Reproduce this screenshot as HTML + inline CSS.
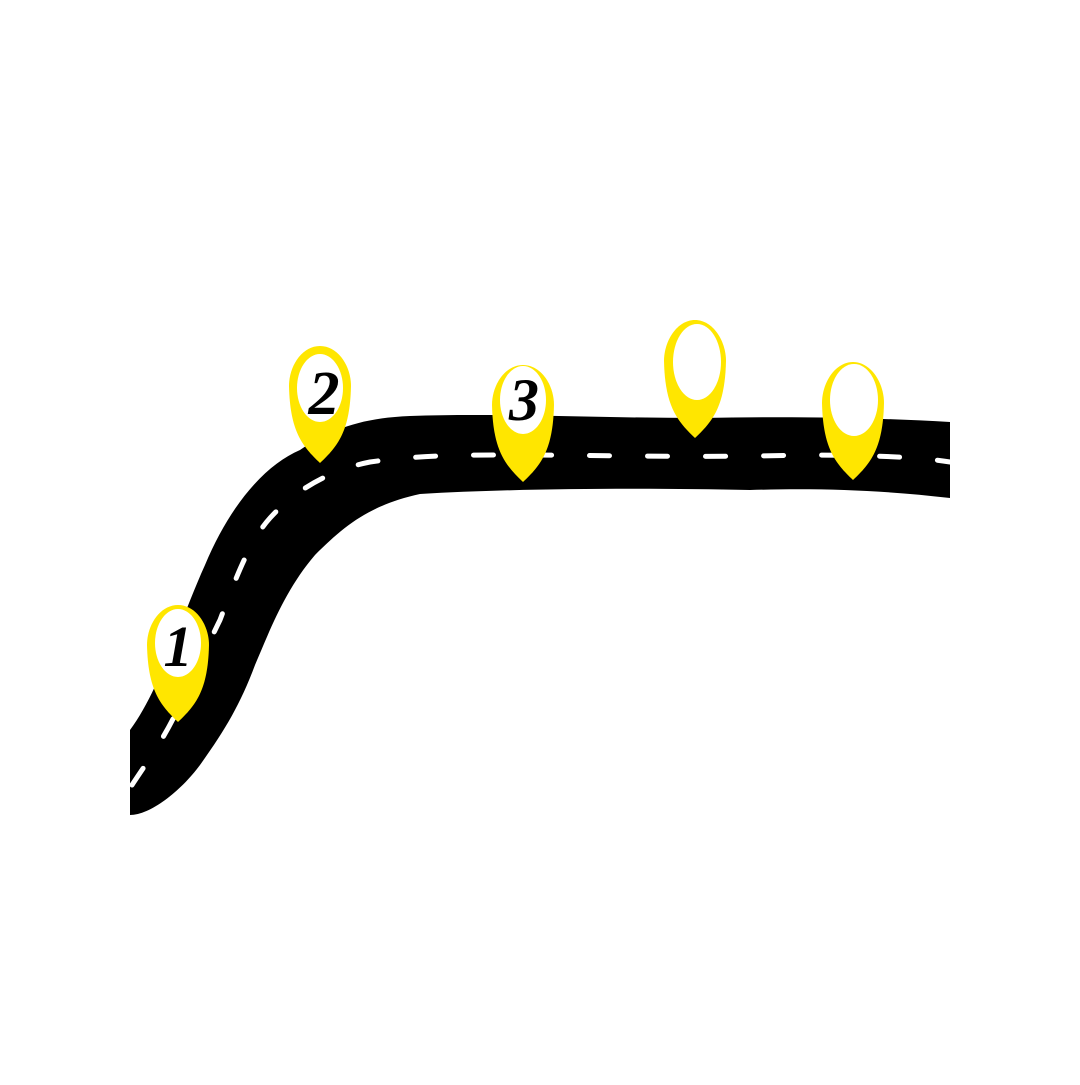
<!DOCTYPE html>
<html><head><style>html,body{margin:0;padding:0;background:#fff}</style></head>
<body>
<svg width="1080" height="1080" viewBox="0 0 1080 1080" xmlns="http://www.w3.org/2000/svg">
<rect width="1080" height="1080" fill="#fff"/>
<path d="M130,730 C160,690 180,620 205,565 C230,505 265,465 300,450 C330,430 360,418 410,416 C500,413 600,418 700,418 C800,416 880,418 950,422 L950,498 C880,490 820,488 750,490 C650,488 520,488 420,494 C370,505 345,525 315,555 C285,590 270,630 255,665 C240,705 225,730 200,765 C180,792 150,815 130,815 Z" fill="#000"/>
<path d="M132,785 C145,765 160,745 175,715 C195,675 210,640 220,620 C235,580 250,540 270,518 C295,490 330,470 370,462 C420,455 460,455 520,455 C600,455 700,458 800,455 C870,455 920,457 950,462" fill="none" stroke="#fff" stroke-width="5" stroke-linecap="round" stroke-dasharray="20,38"/>
<g fill="#FFE600">
<path d="M178,722 C160,705 148,690 147,645 C147,625 160,605 178,605 C196,605 209,625 209,645 C208,690 196,705 178,722 Z"/>
<path d="M320,463 C302,446 290,431 289,386 C289,366 302,346 320,346 C338,346 351,366 351,386 C350,431 338,446 320,463 Z"/>
<path d="M523,482 C505,465 493,450 492,405 C492,385 505,365 523,365 C541,365 554,385 554,405 C553,450 541,465 523,482 Z"/>
<path d="M695,438 C677,421 665,406 664,361 C664,341 677,320 695,320 C713,320 726,341 726,361 C725,406 713,421 695,438 Z"/>
<path d="M853,480 C835,463 823,448 822,403 C822,383 835,362 853,362 C871,362 884,383 884,403 C883,448 871,463 853,480 Z"/>
</g>
<g fill="#fff">
<ellipse cx="178" cy="643" rx="23" ry="34"/>
<ellipse cx="320" cy="388" rx="23" ry="34"/>
<ellipse cx="523" cy="400" rx="23" ry="34"/>
<ellipse cx="697" cy="362" rx="24" ry="38"/>
<ellipse cx="854" cy="400" rx="24" ry="36"/>
</g>
<g font-family="Liberation Serif, serif" font-style="italic" font-weight="bold" fill="#000" text-anchor="middle">
<text x="178" y="666" font-size="58">1</text>
<text x="324" y="414" font-size="62">2</text>
<text x="524" y="420" font-size="60">3</text>
</g>
</svg>
</body></html>
